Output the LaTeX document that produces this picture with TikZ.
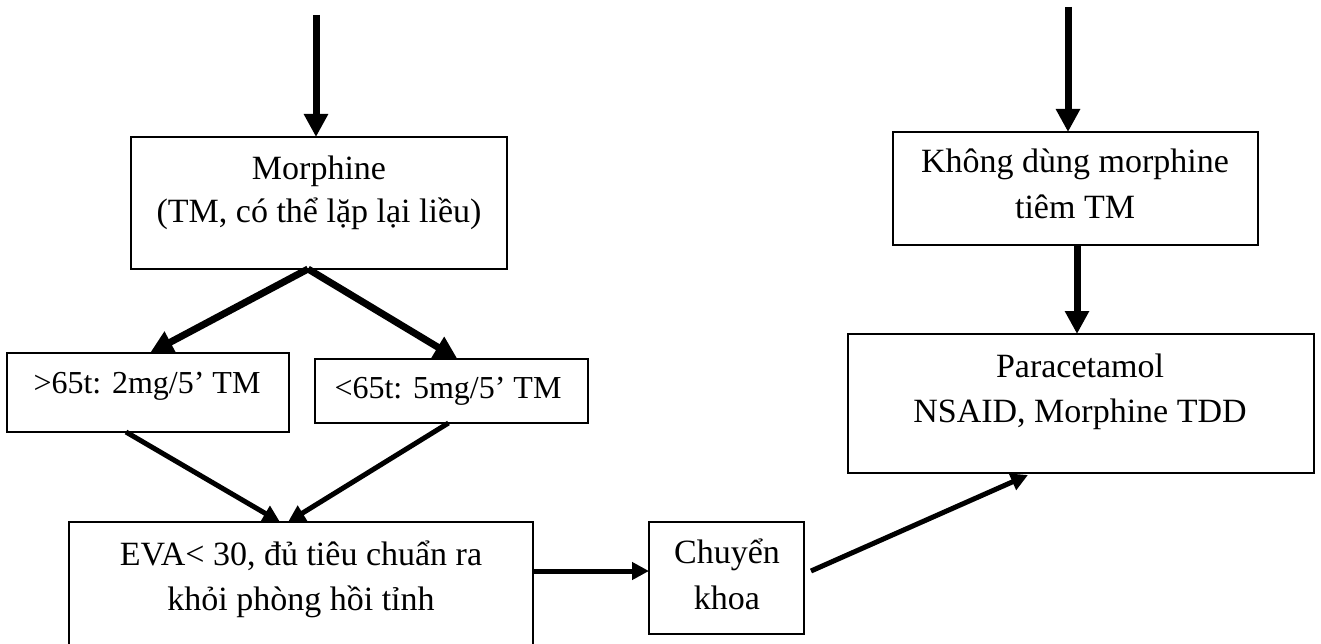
\documentclass[tikz,border=0pt]{standalone}
\usepackage{fontspec}
\setmainfont{Liberation Serif}
\usetikzlibrary{arrows.meta,calc}
\tikzset{
  box/.style={draw, line width=1.8pt, anchor=north west, inner sep=0pt, outer sep=0pt},
  txt/.style={anchor=base, inner sep=0pt, font=\fontsize{34}{45}\selectfont},
  txtsmall/.style={anchor=base, inner sep=0pt, font=\fontsize{32}{42}\selectfont},
  bigarrow/.style={line width=7pt, -{Triangle[length=23pt,width=23pt]}},
  midarrow/.style={line width=5pt, -{Triangle[length=17pt,width=17pt]}},
}
\begin{document}
\begin{tikzpicture}[x=1pt,y=-1pt]
\path[use as bounding box, fill=white] (0,0) rectangle (1321,644);

% boxes
\node[box, minimum width=376pt, minimum height=132pt] (mor) at (131,137) {};
\node[box, minimum width=282pt, minimum height=79pt] (o65) at (7,353) {};
\node[box, minimum width=273pt, minimum height=64pt] (u65) at (315,359) {};
\node[box, minimum width=464pt, minimum height=123pt] (eva) at (69,522) {};
\node[box, minimum width=155pt, minimum height=112pt] (chk) at (649,522) {};
\node[box, minimum width=365pt, minimum height=113pt] (kd) at (893,132) {};
\node[box, minimum width=466pt, minimum height=139pt] (para) at (848,334) {};

% texts
\node[txt] (mor1) at (319,180) {Morphine};
\node[txt] (mor2) at (319,223) {(TM, có thể lặp lại liều)};
\node[txtsmall] (o65t) at (147,393) {>65t: 2mg/5’ TM};
\node[txtsmall] (u65t) at (448,398) {<65t: 5mg/5’ TM};
\node[txt] (eva1) at (301,565) {EVA< 30, đủ tiêu chuẩn ra};
\node[txt] (eva2) at (301,610) {khỏi phòng hồi tỉnh};
\node[txt] (chk1) at (727,563) {Chuyển};
\node[txt] (chk2) at (727,609) {khoa};
\node[txt] (kd1) at (1075,173) {Không dùng morphine};
\node[txt] (kd2) at (1075,219) {tiêm TM};
\node[txt] (para1) at (1080,377) {Paracetamol};
\node[txt] (para2) at (1080,422) {NSAID, Morphine TDD};

% free ends and connector points
\coordinate (topL) at (316,15);
\coordinate (topR) at (1068,7);
\coordinate (hy) at (600,571);
\coordinate (kdo) at ($(kd.south)+(1.5,0)$);

% connectors
\draw[bigarrow] (topL) -- (topL |- mor.north);
\draw[bigarrow] ($(mor.south)+(-11,0)$) -- ($(o65.north)+(2,0)$);
\draw[bigarrow] ($(mor.south)+(-11,0)$) -- ($(u65.north)+(6,0)$);
\draw[midarrow] ($(o65.south)+(-22,0)$) -- ($(eva.north)+(-21,0)$);
\draw[midarrow] ($(u65.south)+(-3,0)$) -- ($(eva.north)+(-13,0)$);
\draw[midarrow] (eva.east |- hy) -- (chk.west |- hy);
\draw[midarrow] ($(chk.east)+(7,-7)$) -- ($(para.south)+(-53,2)$);
\draw[bigarrow] (topR) -- (topR |- kd.north);
\draw[bigarrow] (kdo) -- (kdo |- para.north);
\end{tikzpicture}
\end{document}
